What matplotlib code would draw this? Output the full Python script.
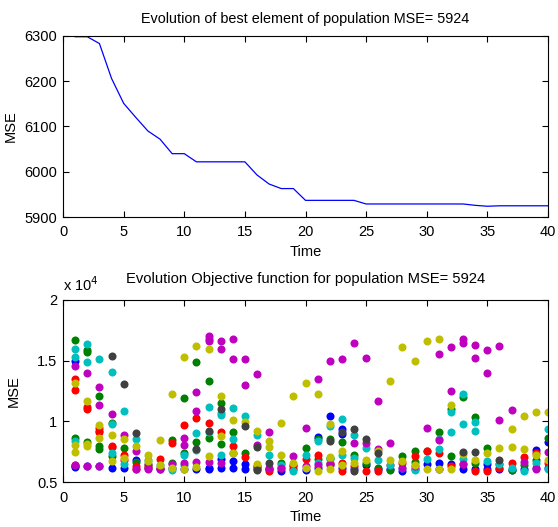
import numpy as np
import matplotlib
matplotlib.use("Agg")
import matplotlib.pyplot as plt
from matplotlib.ticker import FuncFormatter

plt.rcParams['font.family'] = ['Liberation Sans', 'DejaVu Sans']

# best element MSE per generation
gen = list(range(1, 41))
best_mse = [6298, 6298, 6283, 6206, 6151, 6120, 6090, 6072, 6040, 6040,
            6022, 6022, 6022, 6022, 6022, 5993, 5973, 5963, 5963, 5937,
            5937, 5937, 5937, 5937, 5929, 5929, 5929, 5929, 5929, 5929,
            5929, 5929, 5929, 5926, 5924, 5925, 5925, 5925, 5925, 5925]

# population objective values (x 10^4), (generation, value) per colour
blue_t = [1, 1, 1, 2, 3, 4, 5, 6, 7, 8, 9, 10, 11, 12, 12, 13, 13, 14, 14, 15, 15, 16, 17, 18, 19, 20,
          21, 21, 22, 22, 23, 23, 23, 24, 25, 26, 27, 28, 29, 30, 31, 31, 32, 33, 34, 35, 35, 36, 37,
          38, 39, 39, 40, 40]
blue_v = [1.50, 0.635, 0.625, 0.63, 0.63, 0.62, 0.617, 0.686, 0.62, 0.61, 0.615, 0.61, 0.607, 0.62,
          0.607, 0.694, 0.615, 0.675, 0.615, 0.648, 0.607, 0.61, 0.605, 0.596, 0.61, 0.60, 0.869, 0.62,
          1.041, 0.648, 0.934, 0.90, 0.62, 0.61, 0.639, 0.61, 0.605, 0.596, 0.61, 0.648, 0.661, 0.61,
          0.648, 0.61, 0.605, 0.648, 0.61, 0.61, 0.60, 0.61, 0.765, 0.62, 0.833, 0.62]

green_t = [1, 1, 2, 2, 2, 3, 3, 3, 4, 4, 5, 6, 7, 9, 9, 10, 10, 11, 11, 12, 12, 13, 13, 14, 14, 15,
           16, 17, 18, 19, 20, 21, 21, 22, 22, 23, 24, 25, 26, 27, 28, 29, 29, 30, 31, 32, 32, 33,
           34, 34, 35, 36, 37, 38, 39, 40]
green_v = [1.672, 0.866, 1.585, 1.57, 0.833, 1.208, 0.798, 0.77, 0.989, 0.716, 0.784, 0.67, 0.64,
           0.847, 0.66, 1.194, 0.743, 1.486, 0.833, 1.336, 0.866, 1.148, 0.811, 0.913, 0.743, 0.738,
           0.63, 0.61, 0.656, 0.64, 0.784, 0.858, 0.69, 0.858, 0.70, 0.833, 0.721, 0.66, 0.62, 0.60,
           0.716, 0.754, 0.67, 0.76, 0.913, 1.104, 0.716, 1.202, 1.033, 0.66, 0.781, 0.65, 0.60,
           0.64, 0.68, 0.866]

red_t = [1, 1, 1, 2, 2, 3, 3, 3, 4, 4, 5, 5, 6, 6, 7, 8, 8, 9, 10, 11, 12, 13, 14, 15, 16, 17, 18,
         19, 20, 21, 22, 23, 23, 24, 25, 26, 27, 28, 29, 30, 31, 32, 33, 34, 35, 36, 37, 38, 39, 40]
red_v = [1.35, 1.26, 0.64, 1.117, 1.10, 0.945, 0.923, 0.91, 0.80, 0.79, 0.721, 0.683, 0.634, 0.606,
         0.625, 0.691, 0.62, 0.825, 0.967, 1.03, 0.986, 0.913, 0.80, 0.705, 0.628, 0.596, 0.62, 0.63,
         0.694, 0.727, 0.66, 0.661, 0.596, 0.63, 0.596, 0.596, 0.64, 0.66, 0.716, 0.76, 0.738, 0.63,
         0.648, 0.596, 0.596, 0.62, 0.661, 0.705, 0.74, 0.66]

cyan_t = [1, 1, 1, 2, 2, 3, 4, 4, 4, 5, 5, 6, 7, 8, 9, 10, 10, 11, 11, 12, 12, 13, 13, 13, 14, 14,
          15, 16, 17, 18, 19, 20, 21, 21, 22, 22, 23, 23, 24, 24, 25, 26, 27, 28, 29, 30, 31, 31, 32,
          32, 33, 33, 33, 34, 34, 35, 36, 37, 38, 39, 40, 40]
cyan_v = [1.598, 1.53, 0.839, 1.639, 1.489, 1.514, 1.41, 0.978, 0.743, 1.087, 0.65, 0.858, 0.686,
          0.64, 0.60, 0.721, 0.64, 0.902, 0.765, 1.117, 0.91, 1.066, 1.05, 0.727, 1.107, 0.858, 1.044,
          0.891, 0.727, 0.64, 0.596, 0.727, 0.84, 0.658, 0.96, 0.69, 1.019, 0.727, 0.891, 0.70, 0.781,
          0.68, 0.64, 0.62, 0.60, 0.689, 0.858, 0.776, 1.077, 0.913, 1.227, 0.978, 0.69, 0.995, 0.921,
          0.672, 0.65, 0.62, 0.596, 0.66, 0.934, 0.61]

magenta_t = [1, 1, 2, 2, 3, 3, 3, 4, 5, 6, 6, 7, 7, 8, 9, 10, 10, 10, 11, 11, 11, 12, 12, 12, 12,
             13, 13, 13, 14, 14, 15, 15, 16, 16, 17, 17, 18, 19, 20, 20, 21, 21, 22, 22, 23, 24, 24,
             25, 25, 26, 26, 27, 28, 29, 30, 31, 31, 32, 32, 33, 33, 33, 34, 34, 35, 35, 36, 36, 37,
             38, 39, 40]
magenta_v = [1.46, 0.64, 1.399, 0.63, 1.284, 1.131, 0.63, 1.057, 0.888, 0.757, 0.612, 0.65, 0.612,
             0.612, 0.65, 0.866, 0.803, 0.66, 1.238, 1.085, 0.669, 1.699, 1.678, 1.658, 0.67, 1.664,
             1.598, 0.66, 1.675, 1.511, 1.511, 1.303, 1.391, 0.806, 0.913, 0.62, 0.615, 0.716, 0.943,
             0.63, 1.347, 0.64, 1.50, 0.64, 1.511, 1.642, 0.825, 1.522, 0.825, 1.172, 0.77, 0.825,
             0.615, 0.63, 0.943, 1.555, 0.847, 1.609, 1.249, 1.678, 1.642, 0.65, 1.631, 1.522, 1.587,
             1.402, 1.62, 1.008, 1.096, 0.67, 0.61, 0.749]

yellow_t = [1, 1, 1, 2, 2, 2, 3, 3, 4, 4, 5, 5, 6, 7, 7, 8, 8, 9, 9, 10, 10, 11, 11, 12, 12, 13, 13,
            14, 14, 15, 16, 16, 17, 17, 18, 18, 19, 19, 20, 20, 21, 21, 22, 22, 22, 23, 23, 24, 25, 26,
            27, 27, 28, 28, 29, 29, 30, 30, 31, 31, 32, 32, 33, 34, 35, 36, 37, 37, 38, 38, 39, 39,
            40, 40]
yellow_v = [1.314, 0.806, 0.749, 1.172, 0.811, 0.80, 0.97, 0.866, 0.888, 0.675, 0.852, 0.70, 0.801,
            0.727, 0.675, 0.847, 0.64, 1.227, 0.62, 1.53, 0.607, 1.62, 0.628, 1.596, 0.716, 1.208,
            0.88, 1.011, 0.738, 0.997, 0.923, 0.648, 0.836, 0.792, 0.989, 0.727, 1.208, 0.661, 1.314,
            0.62, 1.227, 0.596, 0.975, 0.71, 0.61, 0.76, 0.64, 0.66, 0.683, 0.76, 1.336, 0.683, 1.609,
            0.672, 1.50, 0.64, 1.664, 0.607, 1.675, 0.607, 1.131, 0.607, 0.732, 0.683, 0.738, 0.781,
            0.934, 0.792, 1.041, 0.77, 1.074, 0.72, 1.074, 0.68]

gray_t = [4, 5, 6, 11, 12, 13, 15, 16, 16, 17, 22, 23, 24, 24, 25, 26, 33, 34, 36]
gray_v = [1.541, 1.311, 0.902, 0.77, 0.921, 1.104, 0.962, 0.792, 0.60, 0.661, 0.842, 0.913, 0.934,
          0.596, 0.858, 0.74, 0.745, 0.749, 0.683]

series = [
    (blue_t, blue_v, (0, 0, 1)),
    (green_t, green_v, (0, 0.5, 0)),
    (red_t, red_v, (1, 0, 0)),
    (cyan_t, cyan_v, (0, 0.75, 0.75)),
    (magenta_t, magenta_v, (0.75, 0, 0.75)),
    (yellow_t, yellow_v, (0.75, 0.75, 0)),
    (gray_t, gray_v, (0.25, 0.25, 0.25)),
]

fig = plt.figure(figsize=(5.58, 5.27), dpi=100)

def style(ax):
    ax.tick_params(direction='in', top=True, right=True, length=4, width=0.8,
                   labelsize=10.5, pad=4)
    ax.tick_params(axis='x', pad=6)
    for s in ax.spines.values():
        s.set_linewidth(0.8)

ax1 = fig.add_axes([0.113, 0.588, 0.869, 0.344])
ax1.plot(gen, best_mse, color=(0, 0, 1), lw=0.9)
ax1.set_xlim(0, 40)
ax1.set_ylim(5900, 6300)
ax1.set_xticks(range(0, 41, 5))
ax1.set_yticks(range(5900, 6301, 100))
ax1.set_xlabel('Time', fontsize=10.5, labelpad=4)
ax1.set_ylabel('MSE', fontsize=10.5, labelpad=5)
ax1.set_title('Evolution of best element of population MSE= 5924', fontsize=10.4, pad=9.5)
style(ax1)

ax2 = fig.add_axes([0.113, 0.085, 0.869, 0.346])
for t, v, c in series:
    ax2.plot(t, v, 'o', color=c, markersize=5.8, markeredgewidth=0, linestyle='none')
ax2.set_xlim(0, 40)
ax2.set_ylim(0.5, 2)
ax2.set_xticks(range(0, 41, 5))
ax2.set_yticks([0.5, 1, 1.5, 2])
ax2.yaxis.set_major_formatter(FuncFormatter(lambda y, p: '%g' % y))
ax2.set_xlabel('Time', fontsize=10.5, labelpad=4)
ax2.set_ylabel('MSE', fontsize=10.5, labelpad=12)
ax2.set_title('Evolution Objective function for population MSE= 5924', fontsize=10.6, pad=12)
ax2.text(0.0, 1.032, r'x 10$^4$', transform=ax2.transAxes, fontsize=10.5, ha='left', va='bottom')
style(ax2)

fig.savefig('out.png', dpi=100)
